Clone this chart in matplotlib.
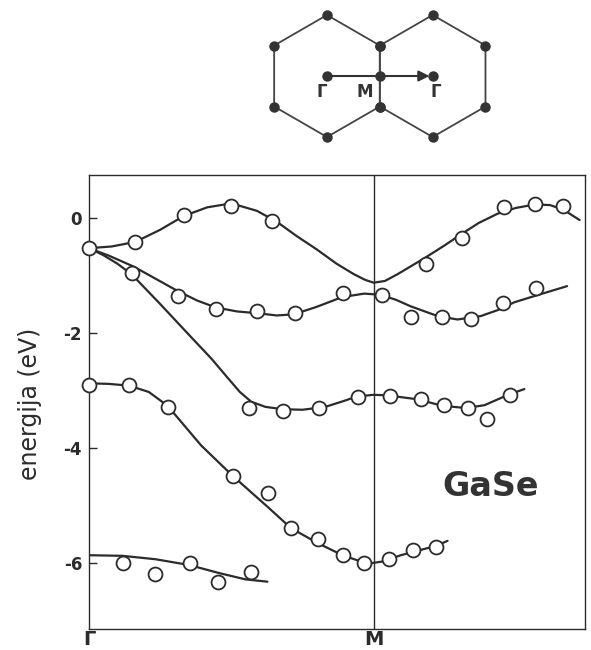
import numpy as np
import matplotlib
matplotlib.use("Agg")
import matplotlib.pyplot as plt

# measured points (open circles), x: 0 = Gamma, 1 = M
b1_x = [0.0, 0.163, 0.333, 0.50, 0.643, 1.184, 1.311, 1.457, 1.566, 1.667]
b1_y = [-0.53, -0.43, 0.05, 0.20, -0.05, -0.81, -0.35, 0.18, 0.23, 0.20]
b2_x = [0.311, 0.446, 0.592, 0.725, 0.892, 1.03, 1.13, 1.24, 1.343, 1.456, 1.57]
b2_y = [-1.36, -1.59, -1.62, -1.66, -1.31, -1.34, -1.72, -1.73, -1.77, -1.48, -1.22]
b3_x = [0.151, 0.561, 0.682, 0.808, 0.946, 1.057, 1.165, 1.248, 1.332, 1.397, 1.479]
b3_y = [-0.97, -3.31, -3.36, -3.31, -3.11, -3.10, -3.16, -3.26, -3.31, -3.50, -3.08]
b4_x = [0.0, 0.14, 0.276, 0.505, 0.628, 0.71, 0.804, 0.891, 0.968, 1.055, 1.14, 1.218]
b4_y = [-2.91, -2.91, -3.29, -4.50, -4.78, -5.40, -5.58, -5.87, -6.00, -5.94, -5.78, -5.72]
b5_x = [0.12, 0.232, 0.354, 0.454, 0.571]
b5_y = [-6.01, -6.20, -6.00, -6.34, -6.16]

# calculated bands (solid lines)
c1_x = [0.0, 0.08, 0.163, 0.25, 0.333, 0.415, 0.50, 0.59, 0.66, 0.73, 0.80, 0.87, 0.93,
        0.97, 1.0, 1.04, 1.085, 1.18, 1.25, 1.31, 1.37, 1.436, 1.50, 1.566, 1.62, 1.667, 1.724]
c1_y = [-0.53, -0.50, -0.42, -0.21, 0.03, 0.18, 0.25, 0.12, -0.07, -0.32, -0.55, -0.80, -0.98,
        -1.08, -1.13, -1.10, -0.98, -0.70, -0.48, -0.28, -0.09, 0.07, 0.17, 0.23, 0.22, 0.14, -0.04]
c2_x = [0.0, 0.07, 0.157, 0.23, 0.31, 0.38, 0.445, 0.52, 0.59, 0.66, 0.72, 0.80, 0.89, 0.967,
        1.025, 1.08, 1.13, 1.225, 1.295, 1.377, 1.44, 1.495, 1.58, 1.68]
c2_y = [-0.53, -0.66, -0.85, -1.05, -1.27, -1.44, -1.56, -1.63, -1.66, -1.70, -1.68, -1.55, -1.38,
        -1.32, -1.34, -1.43, -1.54, -1.71, -1.77, -1.71, -1.60, -1.47, -1.34, -1.19]
c3_x = [0.0, 0.05, 0.10, 0.151, 0.25, 0.35, 0.43, 0.49, 0.53, 0.57, 0.62, 0.68, 0.75, 0.83,
        0.90, 0.94, 1.0, 1.05, 1.157, 1.24, 1.325, 1.39, 1.473, 1.53]
c3_y = [-0.53, -0.65, -0.80, -0.99, -1.50, -2.03, -2.45, -2.80, -3.03, -3.20, -3.29, -3.33, -3.34,
        -3.29, -3.18, -3.11, -3.08, -3.09, -3.16, -3.27, -3.31, -3.26, -3.08, -2.98]
c4_x = [0.0, 0.07, 0.14, 0.21, 0.276, 0.394, 0.505, 0.628, 0.71, 0.804, 0.891, 0.95, 0.99,
        1.03, 1.096, 1.14, 1.218, 1.26]
c4_y = [-2.88, -2.89, -2.92, -3.03, -3.27, -3.96, -4.49, -5.03, -5.40, -5.66, -5.87, -5.97, -6.01,
        -5.98, -5.87, -5.81, -5.71, -5.62]
c5_x = [0.0, 0.117, 0.234, 0.352, 0.457, 0.55, 0.627]
c5_y = [-5.87, -5.88, -5.94, -6.04, -6.18, -6.29, -6.33]

y_ticks = [0, -2, -4, -6]
y_tick_labels = ["0", "-2", "-4", "-6"]
k_ticks = [0, 1]
k_labels = ["\u0393", "M"]

ink = "#2b2b2b"

fig = plt.figure(figsize=(5.91, 6.5), dpi=100)

# band structure panel
ax = fig.add_axes([89 / 591, 21 / 650, 496 / 591, 454 / 650])
ax.set_xlim(0, 1.743)
ax.set_ylim(-7.153, 0.743)
ax.axvline(1.0, color=ink, lw=1.0, zorder=1)

bands = [(c1_x, c1_y), (c2_x, c2_y), (c3_x, c3_y), (c4_x, c4_y), (c5_x, c5_y)]
for cx, cy in bands:
    ax.plot(cx, cy, color=ink, lw=1.6, zorder=2, solid_capstyle="round")

points = [(b1_x, b1_y), (b2_x, b2_y), (b3_x, b3_y), (b4_x, b4_y), (b5_x, b5_y)]
for px, py in points:
    ax.plot(px, py, "o", ms=10, mfc="white", mec=ink, mew=1.3, ls="none",
            zorder=3, clip_on=False)

for s in ax.spines.values():
    s.set_color(ink)
    s.set_linewidth(1.0)

ax.set_yticks(y_ticks)
ax.set_yticklabels(y_tick_labels, fontsize=12, fontweight="bold", color=ink)
ax.tick_params(axis="y", direction="in", length=6, width=1.0, color=ink, pad=5)
ax.set_xticks(k_ticks)
ax.set_xticklabels(k_labels, fontsize=14, fontweight="bold", color=ink)
ax.tick_params(axis="x", length=0, pad=1)

ax.text(1.41, -4.67, "GaSe", fontsize=24, fontweight="bold", color="#333333",
        ha="center", va="center")

fig.text(30 / 591, 1 - 404 / 650, "energija (eV)", rotation=90, fontsize=17,
         color=ink, ha="center", va="center")

# Brillouin zone sketch
hx = fig.add_axes([255 / 591, 500 / 650, 255 / 591, 150 / 650])
hx.set_xlim(-1.18, 3.0)
hx.set_ylim(-1.213, 1.246)
hx.axis("off")

centers = [0.0, np.sqrt(3)]
ang = np.radians([90, 30, -30, -90, -150, 150, 90])
for c in centers:
    vx = c + np.cos(ang)
    vy = np.sin(ang)
    hx.plot(vx, vy, color="#444444", lw=1.3, zorder=1)
    hx.plot(vx[:-1], vy[:-1], "o", ms=6.5, color="#333333", zorder=3)

sym_x = [0.0, np.sqrt(3) / 2, np.sqrt(3)]
hx.plot(sym_x, [0, 0, 0], "o", ms=6.5, color="#333333", zorder=3)
hx.annotate("", xy=(1.68, 0), xytext=(0, 0),
            arrowprops=dict(arrowstyle="-|>", color="#333333", lw=1.5,
                            mutation_scale=16, shrinkA=0, shrinkB=0))

for lx, lab in zip([-0.087, 0.623, 1.79], ["\u0393", "M", "\u0393"]):
    hx.text(lx, -0.26, lab, fontsize=12, fontweight="bold", color="#333333",
            ha="center", va="center")

fig.savefig("out.png", dpi=100)
